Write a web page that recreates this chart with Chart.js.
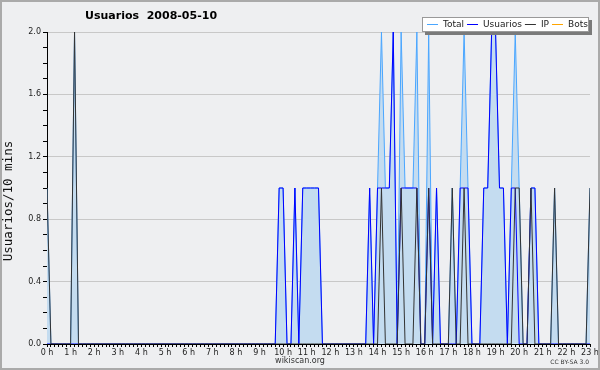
<!DOCTYPE html>
<html lang="es">
<head>
<meta charset="utf-8">
<title>Usuarios 2008-05-10</title>
<script src="https://cdn.jsdelivr.net/npm/chart.js"></script>
<style>
  html, body { margin: 0; padding: 0; background: #eeeff1; }
</style>
</head>
<body>
<canvas id="myChart" width="600" height="370"></canvas>
<script>
// one value every 10 minutes, 0:00 .. 23:00 (one row per hour)
const total = [
  1,0,0,0,0,0,  0,2,0,0,0,0,  0,0,0,0,0,0,  0,0,0,0,0,0,
  0,0,0,0,0,0,  0,0,0,0,0,0,  0,0,0,0,0,0,  0,0,0,0,0,0,
  0,0,0,0,0,0,  0,0,0,0,0,1,  1,0,0,1,0,1,  1,1,1,1,0,0,
  0,0,0,0,0,0,  0,0,0,0,1,0,  1,2,1,1,2,0,  2,1,1,1,2,0,
  0,2,0,1,0,0,  0,1,0,1,2,1,  0,0,0,1,1,2,  2,1,1,0,1,2,
  1,0,0,1,1,0,  0,0,0,1,0,0,  0,0,0,0,0,0,  1
];
const usuarios = [
  0,0,0,0,0,0,  0,0,0,0,0,0,  0,0,0,0,0,0,  0,0,0,0,0,0,
  0,0,0,0,0,0,  0,0,0,0,0,0,  0,0,0,0,0,0,  0,0,0,0,0,0,
  0,0,0,0,0,0,  0,0,0,0,0,1,  1,0,0,1,0,1,  1,1,1,1,0,0,
  0,0,0,0,0,0,  0,0,0,0,1,0,  1,1,1,1,2,0,  1,1,1,1,1,0,
  0,1,0,1,0,0,  0,0,0,1,1,1,  0,0,0,1,1,2,  2,1,1,0,1,1,
  0,0,0,1,1,0,  0,0,0,0,0,0,  0,0,0,0,0,0,  0
];
const ip = [
  1,0,0,0,0,0,  0,2,0,0,0,0,  0,0,0,0,0,0,  0,0,0,0,0,0,
  0,0,0,0,0,0,  0,0,0,0,0,0,  0,0,0,0,0,0,  0,0,0,0,0,0,
  0,0,0,0,0,0,  0,0,0,0,0,0,  0,0,0,0,0,0,  0,0,0,0,0,0,
  0,0,0,0,0,0,  0,0,0,0,0,0,  0,1,0,0,0,0,  1,0,0,0,1,0,
  0,1,0,0,0,0,  0,1,0,0,1,0,  0,0,0,0,0,0,  0,0,0,0,0,1,
  1,0,0,1,0,0,  0,0,0,1,0,0,  0,0,0,0,0,0,  1
];
const bots = [
  0,0,0,0,0,0,  0,0,0,0,0,0,  0,0,0,0,0,0,  0,0,0,0,0,0,
  0,0,0,0,0,0,  0,0,0,0,0,0,  0,0,0,0,0,0,  0,0,0,0,0,0,
  0,0,0,0,0,0,  0,0,0,0,0,0,  0,0,0,0,0,0,  0,0,0,0,0,0,
  0,0,0,0,0,0,  0,0,0,0,0,0,  0,0,0,0,0,0,  0,0,0,0,0,0,
  0,0,0,0,0,0,  0,0,0,0,0,0,  0,0,0,0,0,0,  0,0,0,0,0,0,
  0,0,0,0,0,0,  0,0,0,0,0,0,  0,0,0,0,0,0,  0
];
const hourLabels = ['0 h','1 h','2 h','3 h','4 h','5 h','6 h','7 h','8 h','9 h','10 h','11 h',
  '12 h','13 h','14 h','15 h','16 h','17 h','18 h','19 h','20 h','21 h','22 h','23 h'];
const yLabelStep = 0.4;
const titleText = 'Usuarios  2008-05-10';
const yTitle = 'Usuarios/10 mins';

function pts(arr) {
  return arr.map(function (v, i) { return { x: i, y: v }; });
}

const decor = {
  id: 'decor',
  beforeDraw(chart) {
    const c = chart.ctx;
    c.save();
    c.fillStyle = '#eeeff1';
    c.fillRect(0, 0, chart.width, chart.height);
    c.restore();
  },
  afterDraw(chart) {
    const c = chart.ctx;
    c.save();
    c.strokeStyle = '#aaaaaa';
    c.lineWidth = 2;
    c.strokeRect(1, 1, chart.width - 2, chart.height - 2);

    c.fillStyle = '#000';
    c.textBaseline = 'middle';
    c.font = 'bold 11px "DejaVu Sans"';
    c.fillText(titleText, 85, 16);

    c.font = '8px "DejaVu Sans"';
    c.fillStyle = '#333';
    c.textAlign = 'center';
    c.fillText('wikiscan.org', 300, 361);
    c.font = '6px "DejaVu Sans"';
    c.textAlign = 'right';
    c.fillText('CC BY-SA 3.0', 589, 362);

    // legend box with shadow
    const bx = 422, by = 17, bw = 167, bh = 15;
    c.fillStyle = '#7a7a7a';
    c.fillRect(bx + 3, by + 3, bw, bh);
    c.fillStyle = '#ffffff';
    c.fillRect(bx, by, bw, bh);
    c.strokeStyle = '#999';
    c.lineWidth = 1;
    c.strokeRect(bx + 0.5, by + 0.5, bw - 1, bh - 1);
    c.font = '9px "DejaVu Sans"';
    c.textAlign = 'left';
    let x = bx + 5;
    chart.data.datasets.forEach(function (ds) {
      c.strokeStyle = ds.borderColor;
      c.beginPath();
      c.moveTo(x, by + 7.5);
      c.lineTo(x + 11, by + 7.5);
      c.stroke();
      x += 16;
      c.fillStyle = '#222';
      c.fillText(ds.label, x, by + 8);
      x += c.measureText(ds.label).width + 3;
    });

    // y axis title
    c.translate(9, 201);
    c.rotate(-Math.PI / 2);
    c.textAlign = 'center';
    c.fillStyle = '#111';
    c.font = '12.5px "DejaVu Sans Mono"';
    c.fillText(yTitle, 0, 0);
    c.restore();
  }
};

const ctx = document.getElementById('myChart');
new Chart(ctx, {
  type: 'line',
  data: {
    datasets: [
      { label: 'Total', data: pts(total), borderColor: '#4aa6ff', backgroundColor: '#c4dcf0', fill: 'origin', order: 3 },
      { label: 'Usuarios', data: pts(usuarios), borderColor: '#0000ff', fill: false, order: 2 },
      { label: 'IP', data: pts(ip), borderColor: '#333333', fill: false, order: 1 },
      { label: 'Bots', data: pts(bots), borderColor: '#ffa500', fill: false, order: 4 }
    ]
  },
  options: {
    responsive: false,
    animation: false,
    events: [],
    layout: { padding: { top: 32, right: 10, bottom: 0, left: 0 } },
    elements: {
      point: { radius: 0 },
      line: { borderWidth: 1, tension: 0 }
    },
    plugins: {
      legend: { display: false },
      title: { display: false },
      tooltip: { enabled: false }
    },
    scales: {
      x: {
        type: 'linear',
        min: 0,
        max: total.length - 1,
        z: 1,
        afterFit: function (s) { s.height = 26; },
        border: { color: '#000' },
        grid: { drawOnChartArea: false, tickLength: 3, tickColor: '#000' },
        ticks: {
          stepSize: 1,
          autoSkip: false,
          maxRotation: 0,
          padding: 1,
          color: '#222',
          font: { family: 'DejaVu Sans', size: 8 },
          callback: function (v) { return v % 6 === 0 ? hourLabels[v / 6] : ''; }
        }
      },
      y: {
        min: 0,
        max: 2,
        afterFit: function (s) { s.width = 47; },
        border: { color: '#000' },
        grid: {
          tickLength: 4,
          tickColor: '#000',
          color: function (c) {
            return c.tick && Math.round(c.tick.value * 10) % Math.round(yLabelStep * 10) === 0 ? '#c8c8c8' : 'rgba(0,0,0,0)';
          }
        },
        ticks: {
          stepSize: 0.1,
          autoSkip: false,
          padding: 2,
          color: '#222',
          font: { family: 'DejaVu Sans', size: 8 },
          callback: function (v) {
            return Math.round(v * 10) % Math.round(yLabelStep * 10) === 0 ? v.toFixed(1) : '';
          }
        }
      }
    }
  },
  plugins: [decor]
});
</script>
</body>
</html>
